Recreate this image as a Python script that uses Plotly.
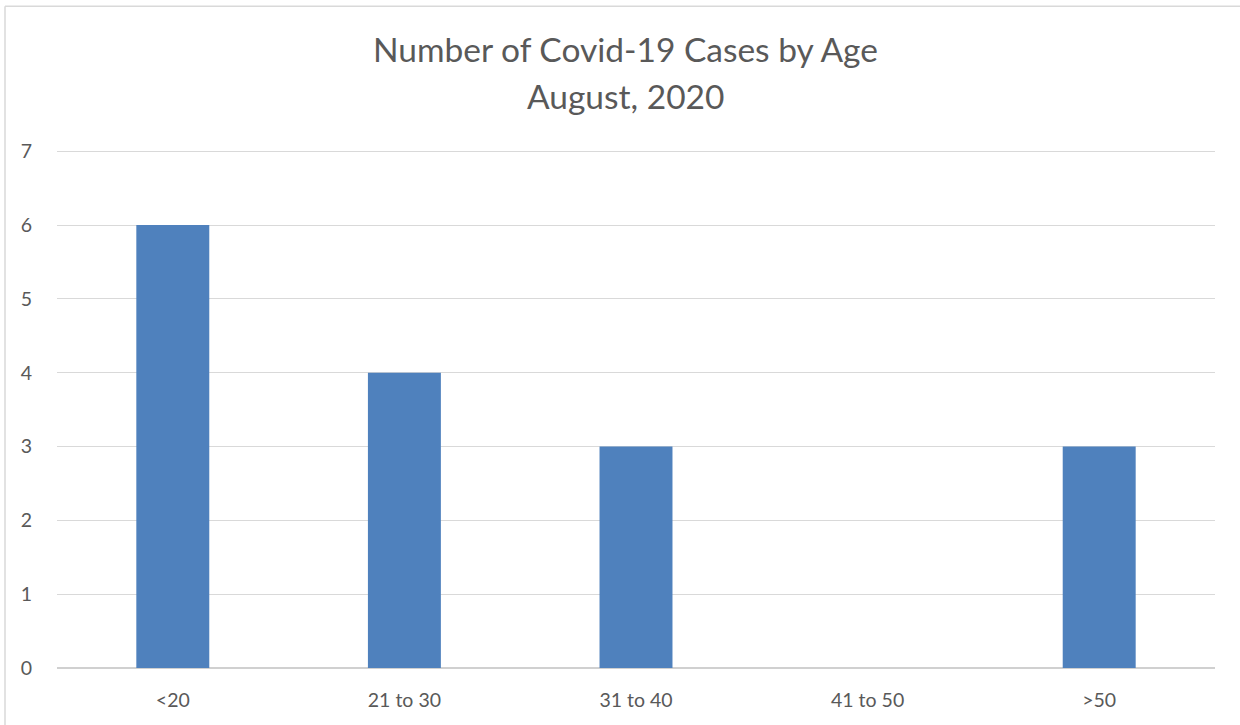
import plotly.graph_objects as go

categories = ["<20", "21 to 30", "31 to 40", "41 to 50", ">50"]
cases = [6, 4, 3, 0, 3]
y_ticks = [0, 1, 2, 3, 4, 5, 6, 7]
title_line1 = "Number of Covid-19 Cases by Age"
title_line2 = "August, 2020"

W, H = 1240, 725
YMAX = 7.03
L, R, B = 57, 25, 57
ph = 517 * YMAX / 7
T = H - B - ph
pw = W - L - R

def px(x):
    return (x - L) / pw

def py(y):
    return (H - B - y) / ph

fig = go.Figure()
fig.add_trace(go.Bar(x=categories, y=cases, marker=dict(color="#4F81BD", line=dict(width=0))))

font_fam = "Lato, 'Open Sans', sans-serif"
fig.update_layout(
    width=W, height=H,
    margin=dict(l=L, r=R, t=T, b=B),
    paper_bgcolor="white", plot_bgcolor="white",
    bargap=0.685,
    showlegend=False,
    font=dict(family=font_fam, color="#595959", size=19.5),
    xaxis=dict(showgrid=False, showline=False, ticks="", tickfont=dict(size=19.5, color="#595959"),
               ticklabelstandoff=18),
    yaxis=dict(range=[0, YMAX], tickvals=y_ticks, showgrid=True, gridcolor="#d9d9d9", gridwidth=1.3,
               zeroline=True, zerolinecolor="#d0d0d0", zerolinewidth=1.6, showline=False,
               ticks="", ticklen=0, tickfont=dict(size=19.5, color="#595959"), ticklabelstandoff=24),
    annotations=[
        dict(text=title_line1, xref="paper", yref="paper", x=px(625), y=py(49), showarrow=False,
             font=dict(size=33.5, color="#595959", family=font_fam), xanchor="center", yanchor="middle"),
        dict(text=title_line2, xref="paper", yref="paper", x=px(625), y=py(96), showarrow=False,
             font=dict(size=33.5, color="#595959", family=font_fam), xanchor="center", yanchor="middle"),
    ],
    shapes=[
        dict(type="line", xref="paper", yref="paper", x0=px(5), x1=px(1240), y0=py(6), y1=py(6),
             line=dict(color="#d9d9d9", width=1.5)),
        dict(type="line", xref="paper", yref="paper", x0=px(5), x1=px(5), y0=py(6), y1=py(725),
             line=dict(color="#d9d9d9", width=1.5)),
    ],
)
fig.write_html("out.html", config={"displayModeBar": False},
               post_script="document.body.style.margin='0';document.body.style.overflow='hidden';")
